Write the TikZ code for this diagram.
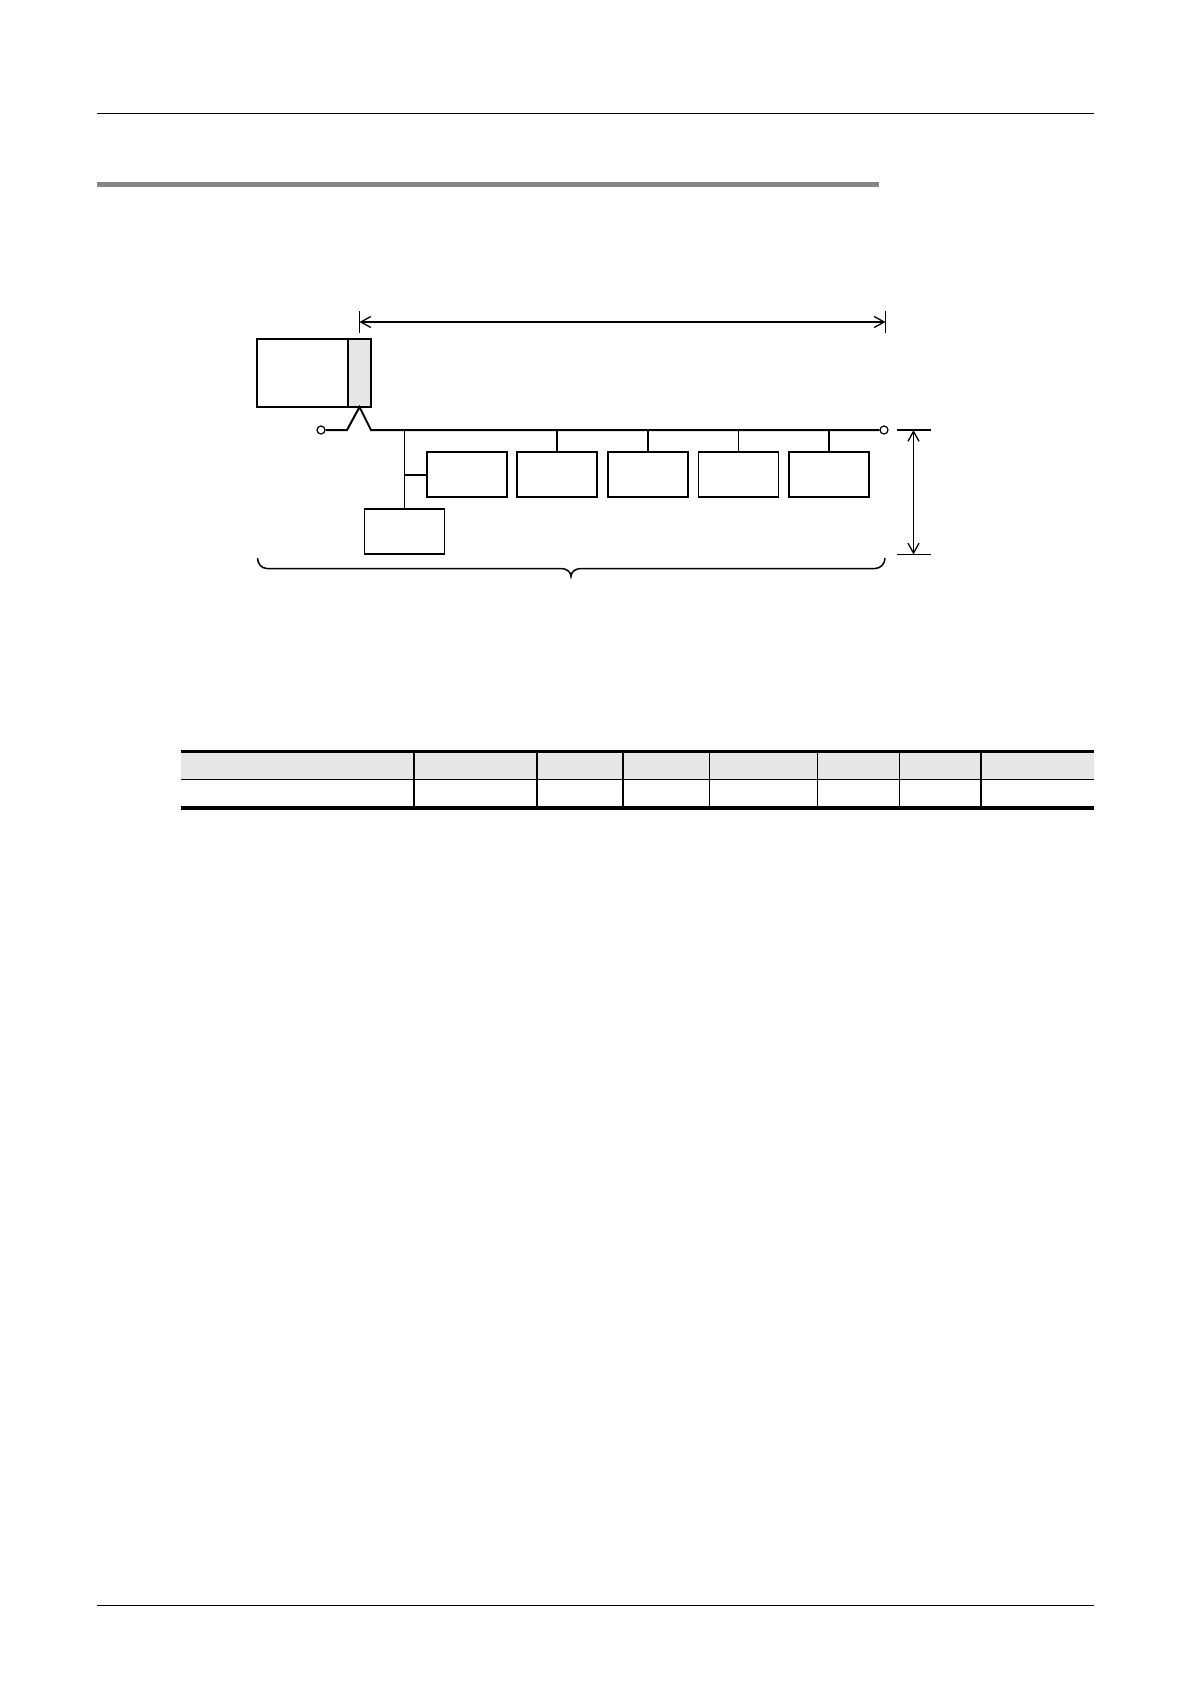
\documentclass[tikz,border=0pt]{standalone}
\usetikzlibrary{arrows.meta}
\definecolor{lgray}{HTML}{E6E6E6}
\definecolor{bargray}{HTML}{868686}
\tikzset{
  box/.style={draw, line width=1.3pt, fill=white, inner sep=0pt, outer sep=0pt, minimum width=80pt, minimum height=45pt},
  wire/.style={line width=1.2pt},
  bus/.style={line width=2pt, line join=miter},
  dimarrow/.style={line width=1.5pt, {Straight Barb[length=10pt,width=11pt,line width=1.3pt]}-{Straight Barb[length=10pt,width=11pt,line width=1.3pt]}},
  tick/.style={line width=1.2pt},
  term/.style={draw, circle, line width=1.2pt, fill=white, inner sep=0pt, minimum size=8pt},
  rulethin/.style={line width=1.2pt},
}
\begin{document}
\begin{tikzpicture}[x=1pt,y=-1pt]
\useasboundingbox[fill=white] (0,0) rectangle (1190,1684);
% page header / footer rules
\draw[line width=1.2pt] (96.5,113.5) -- (1094,113.5);
\fill[bargray] (96.5,181.5) rectangle (879,186.5);
\draw[line width=1.4pt] (96.5,1605.5) -- (1094,1605.5);

% controller unit
\node[draw, line width=2pt, fill=white, inner sep=0pt, outer sep=0pt, minimum width=91pt, minimum height=68pt] (cpu) at (302.5,373) {};
\node[draw, line width=2pt, fill=lgray, inner sep=0pt, outer sep=0pt, minimum width=23pt, minimum height=68pt] (port) at (359.5,373) {};

% terminals
\node[term] (tL) at (321,430) {};
\node[term] (tR) at (884,430) {};

% bus with connection to port
\coordinate (k1) at (347,430);
\coordinate (k2) at (371,430);
\draw[bus] (tL.east) -- (k1) -- (port.south) -- (k2) -- (tR.west);

% station boxes
\node[box] (A) at (467,474.5) {};
\node[box, line width=1.8pt] (B) at (557,474.5) {};
\node[box] (C) at (648,474.5) {};
\node[box, line width=1.8pt] (D) at (738.5,474.5) {};
\node[box] (E) at (829,474.5) {};
\node[box, line width=1.6pt] (F) at (404.5,531.5) {};

\coordinate (busy) at (0,430);
\draw[wire] (B.north) -- (B.north |- busy);
\draw[wire] (C.north) -- (C.north |- busy);
\draw[wire] (D.north) -- (D.north |- busy);
\draw[line width=2pt] (E.north) -- (E.north |- busy);
\draw[wire] (F.north) -- (F.north |- busy);
\draw[line width=2pt] (A.west) -- (A.west -| F.north);

% top dimension
\coordinate (d1) at (359.5,322);
\coordinate (d2) at (885.5,322);
\draw[tick] (359.5,311) -- (359.5,333);
\draw[tick] (885.5,311) -- (885.5,333);
\draw[dimarrow] (d1) -- (d2);

% right dimension
\coordinate (v1) at (913.5,430);
\coordinate (v2) at (913.5,554.5);
\draw[tick] (897,430) -- (931,430);
\draw[tick] (897,554.5) -- (931,554.5);
\draw[dimarrow] (v1) -- (v2);

% brace
\draw[line width=1.5pt] (257.5,558) to[out=-90,in=180] (267,568.5) -- (561,568.5)
  to[out=0,in=90] (571,576.5) to[out=90,in=180] (581,568.5) -- (875,568.5)
  to[out=0,in=-90] (885,558);

% table
\fill[lgray] (181,752) rectangle (1094,779);
\draw[line width=2.6pt] (181,751.5) -- (1094,751.5);
\draw[rulethin] (181,779.5) -- (1094,779.5);
\foreach \cx in {414,537,623,709.5,817.5,899.5,981}
  \draw[rulethin] (\cx,752) -- (\cx,806.5);
\draw[line width=3.4pt] (181,808) -- (1094,808);
\end{tikzpicture}
\end{document}
